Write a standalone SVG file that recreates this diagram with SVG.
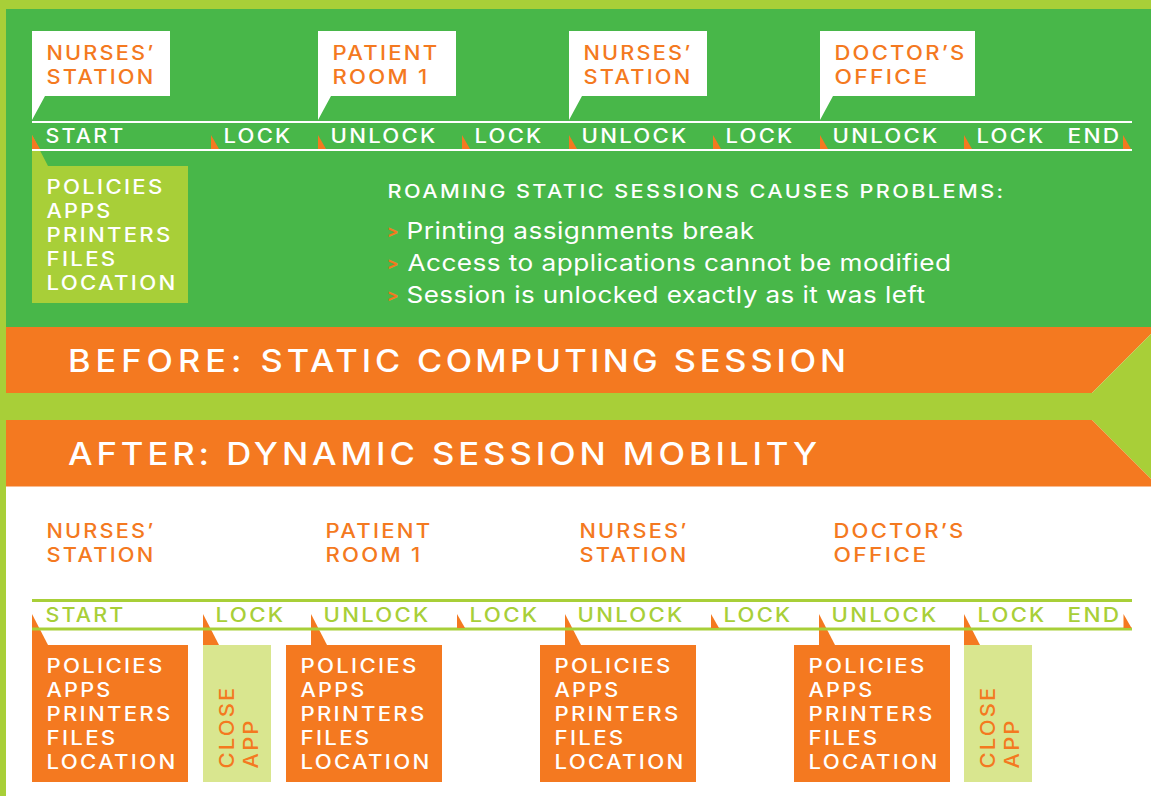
<svg xmlns="http://www.w3.org/2000/svg" width="1151" height="796" viewBox="0 0 1151 796">
<style>
text{font-family:"Inter","Liberation Sans",sans-serif;font-weight:500;font-size:19.5px;letter-spacing:2px}
.o{fill:#F47920}.w{fill:#FFFFFF}.g{fill:#A8CF38}.l{fill:#D9E68F}.gr{fill:#48B749}
.h{font-size:18px;font-weight:500;letter-spacing:2px}
.b{font-size:23px;font-weight:400;letter-spacing:.4px}
.big{font-size:31px;font-weight:500;letter-spacing:3.5px}
.m{font-size:17px;font-weight:700;letter-spacing:0}
.ln-w{stroke:#FFFFFF;stroke-width:2;fill:none}
.ln-g{stroke:#A8CF38;stroke-width:3;fill:none}
</style>
<defs>
<polygon id="tick" points="0,0 8,14 0,14" fill="#F47920"/>
<polygon id="tail" points="0,0 16,31 0,31" fill="#F47920"/>
</defs>
<rect width="1151" height="796" fill="#FFFFFF"/>
<rect width="1151" height="9" class="g"/>
<rect width="6" height="796" class="g"/>
<g id="before-panel">
<rect x="6" y="9" width="1145" height="318" class="gr"/>
<rect x="6" y="393" width="1145" height="27" class="g"/>
<polygon points="6,327 1151,327 1151,334 1092,393 6,393" class="o"/>
<polygon points="1151,334 1151,479 1092,420 1092,393" class="g"/>
<text x="68" y="372" textLength="782" lengthAdjust="spacingAndGlyphs" class="w big"><tspan style="letter-spacing:4.500px">BEFORE: </tspan>STATIC <tspan style="letter-spacing:3px">COMPUTING </tspan>SESSION</text>
</g>
<g id="after-banner">
<polygon points="6,420 1092,420 1151,479 1151,486.500 6,486.500" class="o"/>
<text x="68" y="465" textLength="753" lengthAdjust="spacingAndGlyphs" class="w big">AFTER: DYNAMIC SESSION MOBILITY</text>
</g>

<g id="top-nurses-1"><polygon points="32,31 170,31 170,96 45,96 32,120" class="w"/>
<text x="46.500" y="60" textLength="109" lengthAdjust="spacingAndGlyphs" class="o">NURSES’</text><text x="46.500" y="84" textLength="109" lengthAdjust="spacingAndGlyphs" class="o">STATION</text></g>
<g id="top-patient"><polygon points="318,31 456,31 456,96 331,96 318,120" class="w"/>
<text x="332.500" y="60" textLength="107" lengthAdjust="spacingAndGlyphs" class="o">PATIENT</text><text x="332.500" y="84" textLength="97" lengthAdjust="spacingAndGlyphs" class="o">ROOM 1</text></g>
<g id="top-nurses-2"><polygon points="569,31 707,31 707,96 582,96 569,120" class="w"/>
<text x="583.500" y="60" textLength="109" lengthAdjust="spacingAndGlyphs" class="o">NURSES’</text><text x="583.500" y="84" textLength="109" lengthAdjust="spacingAndGlyphs" class="o">STATION</text></g>
<g id="top-doctor"><polygon points="820,31 975,31 975,96 833,96 820,120" class="w"/>
<text x="834.500" y="60" textLength="132" lengthAdjust="spacingAndGlyphs" class="o">DOCTOR’S</text><text x="834.500" y="84" textLength="95" lengthAdjust="spacingAndGlyphs" class="o">OFFICE</text></g>

<g id="top-session"><polygon points="32,135 48,166 188,166 188,303 32,303" class="g"/>
<text x="46.500" y="194" textLength="118" lengthAdjust="spacingAndGlyphs" class="w">POLICIES</text><text x="46.500" y="218" textLength="66" lengthAdjust="spacingAndGlyphs" class="w">APPS</text><text x="46.500" y="242" textLength="126" lengthAdjust="spacingAndGlyphs" class="w">PRINTERS</text><text x="46.500" y="266" textLength="71" lengthAdjust="spacingAndGlyphs" class="w">FILES</text><text x="46.500" y="290" textLength="131" lengthAdjust="spacingAndGlyphs" class="w">LOCATION</text></g>

<g id="problems">
<text x="387.500" y="198" textLength="618" lengthAdjust="spacingAndGlyphs" class="w h">ROAMING STATIC SESSIONS CAUSES PROBLEMS:</text>
<text x="387" y="236.500" class="o m">&gt;</text><text x="406.500" y="239" textLength="348" lengthAdjust="spacingAndGlyphs" class="w b">Printing assignments break</text>
<text x="387" y="268.500" class="o m">&gt;</text><text x="407.500" y="271" textLength="544" lengthAdjust="spacingAndGlyphs" class="w b">Access to applications cannot be modified</text>
<text x="387" y="300.500" class="o m">&gt;</text><text x="406.500" y="303" textLength="519" lengthAdjust="spacingAndGlyphs" class="w b">Session is unlocked exactly as it was left</text>
</g>

<g id="bottom-nurses-1"><text x="46.500" y="538" textLength="109" lengthAdjust="spacingAndGlyphs" class="o">NURSES’</text><text x="46.500" y="562" textLength="109" lengthAdjust="spacingAndGlyphs" class="o">STATION</text></g>
<g id="bottom-patient"><text x="325.500" y="538" textLength="107" lengthAdjust="spacingAndGlyphs" class="o">PATIENT</text><text x="325.500" y="562" textLength="97" lengthAdjust="spacingAndGlyphs" class="o">ROOM 1</text></g>
<g id="bottom-nurses-2"><text x="579.500" y="538" textLength="109" lengthAdjust="spacingAndGlyphs" class="o">NURSES’</text><text x="579.500" y="562" textLength="109" lengthAdjust="spacingAndGlyphs" class="o">STATION</text></g>
<g id="bottom-doctor"><text x="833.500" y="538" textLength="132" lengthAdjust="spacingAndGlyphs" class="o">DOCTOR’S</text><text x="833.500" y="562" textLength="95" lengthAdjust="spacingAndGlyphs" class="o">OFFICE</text></g>

<g id="session-1"><rect x="32" y="645" width="156" height="137" class="o"/><use href="#tail" x="32" y="614"/>
<text x="46.500" y="673" textLength="118" lengthAdjust="spacingAndGlyphs" class="w">POLICIES</text><text x="46.500" y="697" textLength="66" lengthAdjust="spacingAndGlyphs" class="w">APPS</text><text x="46.500" y="721" textLength="126" lengthAdjust="spacingAndGlyphs" class="w">PRINTERS</text><text x="46.500" y="745" textLength="71" lengthAdjust="spacingAndGlyphs" class="w">FILES</text><text x="46.500" y="769" textLength="131" lengthAdjust="spacingAndGlyphs" class="w">LOCATION</text></g>
<g id="close-1"><rect x="203" y="645" width="68" height="137" class="l"/><use href="#tail" x="203" y="614"/>
<text transform="translate(233.500 768.500) rotate(-90)" textLength="83" lengthAdjust="spacingAndGlyphs" class="o">CLOSE</text><text transform="translate(257.500 768.500) rotate(-90)" textLength="50" lengthAdjust="spacingAndGlyphs" class="o">APP</text></g>
<g id="session-2"><rect x="286" y="645" width="156" height="137" class="o"/><use href="#tail" x="311" y="614"/>
<text x="300.500" y="673" textLength="118" lengthAdjust="spacingAndGlyphs" class="w">POLICIES</text><text x="300.500" y="697" textLength="66" lengthAdjust="spacingAndGlyphs" class="w">APPS</text><text x="300.500" y="721" textLength="126" lengthAdjust="spacingAndGlyphs" class="w">PRINTERS</text><text x="300.500" y="745" textLength="71" lengthAdjust="spacingAndGlyphs" class="w">FILES</text><text x="300.500" y="769" textLength="131" lengthAdjust="spacingAndGlyphs" class="w">LOCATION</text></g>
<g id="session-3"><rect x="540" y="645" width="156" height="137" class="o"/><use href="#tail" x="565" y="614"/>
<text x="554.500" y="673" textLength="118" lengthAdjust="spacingAndGlyphs" class="w">POLICIES</text><text x="554.500" y="697" textLength="66" lengthAdjust="spacingAndGlyphs" class="w">APPS</text><text x="554.500" y="721" textLength="126" lengthAdjust="spacingAndGlyphs" class="w">PRINTERS</text><text x="554.500" y="745" textLength="71" lengthAdjust="spacingAndGlyphs" class="w">FILES</text><text x="554.500" y="769" textLength="131" lengthAdjust="spacingAndGlyphs" class="w">LOCATION</text></g>
<g id="session-4"><rect x="794" y="645" width="156" height="137" class="o"/><use href="#tail" x="819" y="614"/>
<text x="808.500" y="673" textLength="118" lengthAdjust="spacingAndGlyphs" class="w">POLICIES</text><text x="808.500" y="697" textLength="66" lengthAdjust="spacingAndGlyphs" class="w">APPS</text><text x="808.500" y="721" textLength="126" lengthAdjust="spacingAndGlyphs" class="w">PRINTERS</text><text x="808.500" y="745" textLength="71" lengthAdjust="spacingAndGlyphs" class="w">FILES</text><text x="808.500" y="769" textLength="131" lengthAdjust="spacingAndGlyphs" class="w">LOCATION</text></g>
<g id="close-2"><rect x="964" y="645" width="68" height="137" class="l"/><use href="#tail" x="964" y="614"/>
<text transform="translate(994.500 768.500) rotate(-90)" textLength="83" lengthAdjust="spacingAndGlyphs" class="o">CLOSE</text><text transform="translate(1018.500 768.500) rotate(-90)" textLength="50" lengthAdjust="spacingAndGlyphs" class="o">APP</text></g>

<g id="connectors">
<path class="ln-w" d="M32 122H1132M32 150H1132"/>
<path class="ln-g" d="M32 600.500H1132M32 629H1132"/>
<use href="#tick" x="32" y="135"/><use href="#tick" x="211" y="135"/><use href="#tick" x="318" y="135"/><use href="#tick" x="462" y="135"/><use href="#tick" x="569" y="135"/><use href="#tick" x="713" y="135"/><use href="#tick" x="820" y="135"/><use href="#tick" x="964" y="135"/><use href="#tick" x="1123" y="135"/>
<use href="#tick" x="457" y="614"/><use href="#tick" x="711" y="614"/><use href="#tick" x="1123.500" y="614"/>
</g>

<g id="timeline-labels">
<text x="45.500" y="143" textLength="80" lengthAdjust="spacingAndGlyphs" class="w">START</text><text x="223.500" y="143" textLength="69" lengthAdjust="spacingAndGlyphs" class="w">LOCK</text><text x="330.500" y="143" textLength="107" lengthAdjust="spacingAndGlyphs" class="w">UNLOCK</text><text x="474.500" y="143" textLength="69" lengthAdjust="spacingAndGlyphs" class="w">LOCK</text><text x="581.500" y="143" textLength="107" lengthAdjust="spacingAndGlyphs" class="w">UNLOCK</text><text x="725.500" y="143" textLength="69" lengthAdjust="spacingAndGlyphs" class="w">LOCK</text><text x="832.500" y="143" textLength="107" lengthAdjust="spacingAndGlyphs" class="w">UNLOCK</text><text x="976.500" y="143" textLength="69" lengthAdjust="spacingAndGlyphs" class="w">LOCK</text><text x="1067.500" y="143" textLength="54" lengthAdjust="spacingAndGlyphs" class="w">END</text>
<text x="45.500" y="622" textLength="80" lengthAdjust="spacingAndGlyphs" class="g">START</text><text x="215.500" y="622" textLength="70" lengthAdjust="spacingAndGlyphs" class="g">LOCK</text><text x="323.500" y="622" textLength="107" lengthAdjust="spacingAndGlyphs" class="g">UNLOCK</text><text x="469.500" y="622" textLength="70" lengthAdjust="spacingAndGlyphs" class="g">LOCK</text><text x="577.500" y="622" textLength="107" lengthAdjust="spacingAndGlyphs" class="g">UNLOCK</text><text x="723.500" y="622" textLength="69" lengthAdjust="spacingAndGlyphs" class="g">LOCK</text><text x="831.500" y="622" textLength="107" lengthAdjust="spacingAndGlyphs" class="g">UNLOCK</text><text x="977.500" y="622" textLength="69" lengthAdjust="spacingAndGlyphs" class="g">LOCK</text><text x="1067.500" y="622" textLength="54" lengthAdjust="spacingAndGlyphs" class="g">END</text>
</g>
</svg>
